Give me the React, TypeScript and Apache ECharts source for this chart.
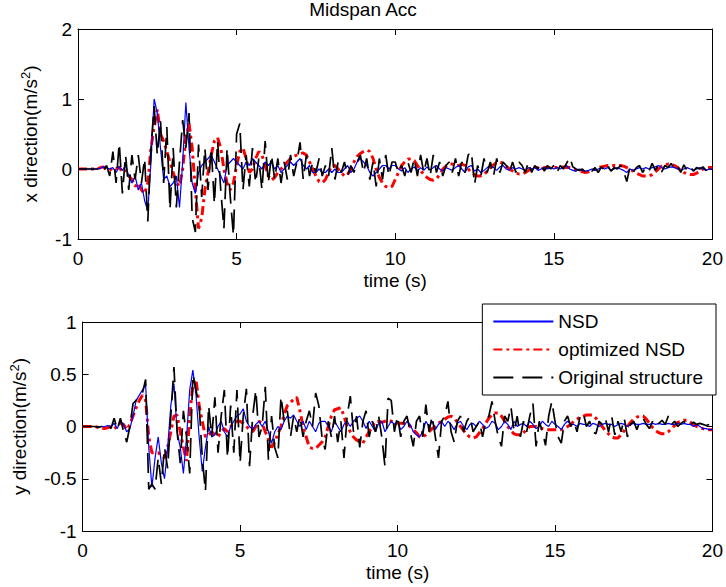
import React, { useEffect, useRef } from "react";
import * as echarts from "echarts";

const TIME_STEP = 0.1;
const X_TICKS = [0, 5, 10, 15, 20];
const LEGEND_NAMES = ["NSD", "optimized NSD", "Original structure"];
const TITLE = "Midspan Acc";

// ---- top plot: x direction ----
const X_NSD = [
  0, 0, 0, 0, 0, 0, 0, 0.01, 0.03, 0.02,
  0, 0.02, -0.05, 0.03, -0.02, 0.05, -0.1, -0.2, -0.1, -0.3,
  -0.2, -0.45, -0.6, 0.1, 1.0, 0.8, 0.3, -0.15, -0.1, -0.25,
  -0.2, -0.1, -0.55, 0.1, 0.95, 0.3, -0.2, -0.35, -0.05, 0.05,
  0.1, 0.15, 0.2, 0.1, 0.0, -0.1, -0.2, 0.05, 0.1, 0.15,
  0.1, 0.05, 0.0, 0.1, 0.05, 0.15, 0.1, 0.05, 0.0, 0.1,
  0.05, 0.1, 0.0, 0.05, -0.05, 0.0, 0.05, 0.1, 0.05, 0.1,
  0.15, 0.05, 0.0, 0.05, -0.05, -0.05, 0.0, -0.05, -0.05, 0.0,
  -0.05, 0.0, -0.05, -0.05, 0.0, 0.05, -0.05, 0.0, 0.1, 0.15,
  0.1, 0.05, -0.05, -0.1, -0.05, 0.0, 0.05, 0.05, 0.0, 0.05,
  0.05, 0.0, -0.03, 0.02, -0.05, 0.0, 0.03, -0.03, 0.02, -0.02,
  0.03, -0.02, 0.02, 0.05, 0.0, -0.03, 0.02, 0.0, -0.02, 0.02,
  0.05, 0.0, -0.05, 0.03, 0.05, -0.03, 0.0, -0.05, -0.02, 0.02,
  0.05, 0.02, -0.02, 0.03, 0.05, 0.0, -0.02, 0.02, 0.0, 0.02,
  0.0, -0.02, 0.02, 0.0, 0.02, -0.02, 0.0, 0.02, 0.0, 0.02,
  0.0, 0.02, 0.0, 0.02, 0.05, 0.0, -0.02, -0.03, 0.0, -0.02,
  -0.03, -0.02, 0.0, -0.02, 0.0, 0.02, 0.0, 0.02, -0.02, 0.0,
  0.02, 0.0, -0.02, -0.05, 0.0, -0.02, 0.0, 0.02, 0.0, 0.02,
  0.0, 0.02, 0.03, 0.05, 0.02, 0.0, 0.02, 0.03, 0.02, 0.0,
  -0.02, 0.0, 0.02, 0.0, -0.02, 0.0, 0.02, 0.0, -0.02, 0.0,
  0.0,
];

const X_OPT = [
  0, 0, 0, 0, 0, 0, 0, 0.02, 0.03, 0.0,
  -0.02, 0.02, 0.0, 0.03, -0.05, -0.02, -0.1, -0.15, -0.25, -0.2,
  -0.3, -0.35, -0.2, 0.3, 0.6, 0.85, 0.5, 0.4, 0.25, 0.1,
  -0.05, -0.2, -0.25, 0.0, 0.45, 0.65, 0.3, -0.3, -0.85, -0.7,
  -0.3, -0.05, 0.2, 0.4, 0.45, 0.3, 0.0, -0.2, -0.3, -0.2,
  0.05, 0.25, 0.3, 0.15, -0.05, 0.0, 0.15, 0.25, 0.2, 0.05,
  -0.1, -0.16, -0.12, -0.05, 0.0, 0.05, 0.1, 0.15, 0.18, 0.2,
  0.22, 0.23, 0.2, 0.1, 0.0, -0.1, -0.18, -0.2, -0.15, -0.05,
  0.05, 0.05, 0.0, -0.05, -0.1, -0.08, 0.0, 0.1, 0.18, 0.22,
  0.25, 0.27, 0.25, 0.15, 0.0, -0.12, -0.2, -0.25, -0.27, -0.25,
  -0.15, -0.05, 0.05, 0.1, 0.14, 0.15, 0.12, 0.05, -0.02, -0.08,
  -0.12, -0.15, -0.16, -0.14, -0.08, 0.0, 0.04, 0.07, 0.07, 0.05,
  0.05, 0.07, 0.05, 0.0, -0.05, -0.08, -0.1, -0.1, -0.08, -0.03,
  0.02, 0.06, 0.09, 0.1, 0.08, 0.04, 0.0, -0.03, -0.06, -0.07,
  -0.07, -0.05, -0.02, 0.01, 0.02, 0.02, 0.0, 0.02, 0.02, 0.02,
  0.02, 0.02, 0.02, 0.03, 0.02, 0.02, 0.0, -0.02, -0.03, -0.04,
  -0.05, -0.04, -0.02, 0.0, 0.02, 0.03, 0.04, 0.05, 0.05, 0.05,
  0.05, 0.05, 0.04, 0.02, 0.0, -0.03, -0.06, -0.08, -0.1, -0.1,
  -0.1, -0.08, -0.04, 0.0, 0.04, 0.06, 0.07, 0.07, 0.05, 0.02,
  -0.02, -0.05, -0.07, -0.08, -0.08, -0.06, -0.03, 0.0, 0.02, 0.02,
  0.02,
];

const X_ORIG = [
  0, 0, 0, 0, 0, 0, 0, 0.02, -0.03, 0.05,
  -0.1, 0.25, -0.2, 0.37, -0.35, 0.2, -0.3, 0.2, -0.15, 0.2,
  -0.2, 0.15, -0.75, 0.3, 0.9, 0.2, 0.7, -0.2, 0.6, -0.58,
  0.3, -0.55, 0.1, 0.7, 0.3, 0.8, -0.7, -0.9, 0.35, -0.4,
  0.3, -0.3, 0.3, -0.5, 0.4, -0.3, -0.85, 0.3, -0.4, -0.95,
  0.5, 0.65, -0.3, 0.2, -0.25, 0.3, -0.2, 0.15, -0.3, 0.4,
  -0.2, 0.2, -0.15, 0.15, -0.2, 0.1, -0.15, 0.2, -0.1, 0.1,
  0.38, -0.15, 0.2, -0.1, 0.1, -0.05, 0.15, -0.1, 0.05, -0.1,
  0.3, -0.15, 0.1, -0.05, 0.1, -0.1, 0.05, -0.05, 0.1, 0.2,
  -0.05, 0.15, -0.15, 0.1, -0.25, 0.15, -0.15, 0.2, -0.1, 0.1,
  0.1, -0.05, 0.05, -0.1, 0.1, -0.05, 0.15, -0.1, 0.2, -0.05,
  0.15, -0.1, 0.2, -0.05, 0.1, -0.1, 0.05, 0.1, -0.05, 0.15,
  -0.1, 0.1, -0.05, 0.2, 0.25, -0.22, 0.05, -0.1, 0.15, -0.05,
  0.1, -0.1, 0.15, -0.05, 0.1, 0.05, -0.05, 0.1, -0.05, 0.1,
  0.05, -0.05, 0.1, -0.05, 0.05, 0.0, 0.08, -0.03, 0.05, 0.0,
  0.05, -0.05, 0.05, 0.0, 0.08, 0.17, 0.03, 0.0, -0.02, 0.0,
  -0.05, 0.0, -0.03, 0.02, -0.05, 0.03, -0.02, 0.05, -0.03, 0.02,
  0.0, 0.05, -0.03, -0.18, 0.03, -0.05, 0.02, 0.05, -0.05, 0.03,
  -0.03, 0.08, -0.02, 0.06, -0.04, 0.05, 0.02, 0.08, 0.0, 0.05,
  -0.05, 0.06, -0.02, 0.04, -0.03, 0.02, 0.0, 0.03, -0.02, 0.02,
  0.0,
];

// ---- bottom plot: y direction ----
const Y_NSD = [
  0, 0, 0, 0, 0, 0, 0, 0, 0.01, 0.0,
  0.03, -0.02, 0.05, 0.02, -0.05, -0.02, 0.1, 0.25, 0.3, 0.35,
  0.4, -0.2, -0.58, -0.3, -0.1, -0.35, -0.5, -0.2, 0.2, 0.41,
  -0.05, -0.2, -0.45, -0.1, 0.35, 0.54, 0.3, -0.1, -0.43, -0.2,
  0.0, -0.1, -0.08, 0.0, 0.05, -0.05, -0.1, 0.0, 0.05, 0.1,
  0.12, 0.17, 0.05, 0.0, -0.03, 0.02, 0.05, 0.0, 0.05, -0.05,
  -0.16, -0.05, 0.0, -0.03, 0.05, 0.1, 0.08, 0.11, 0.05, 0.0,
  0.05, -0.03, 0.05, 0.0, -0.05, 0.03, 0.05, 0.05, 0.0, -0.05,
  0.05, 0.0, -0.05, 0.02, 0.05, 0.0, 0.05, 0.08, 0.1, 0.05,
  -0.02, 0.05, 0.0, -0.05, 0.03, 0.05, -0.05, 0.0, 0.05, 0.02,
  0.05, -0.03, 0.0, 0.05, 0.02, -0.05, -0.08, -0.1, -0.05, 0.05,
  0.0, 0.05, -0.03, 0.02, 0.05, 0.0, 0.05, 0.02, -0.03, 0.03,
  0.05, 0.0, -0.03, 0.02, 0.03, 0.0, 0.05, 0.02, -0.02, 0.0,
  0.05, 0.03, -0.03, 0.0, 0.05, 0.02, -0.03, 0.05, 0.0, 0.02,
  0.03, 0.0, 0.05, 0.02, -0.02, 0.0, 0.05, 0.02, 0.0, 0.05,
  0.02, 0.0, -0.03, 0.02, 0.05, 0.02, 0.02, 0.0, 0.03, 0.02,
  0.02, 0.0, 0.03, 0.02, 0.0, 0.02, 0.03, 0.02, 0.02, 0.0,
  0.02, 0.03, 0.02, 0.0, 0.02, 0.03, 0.02, 0.02, 0.03, 0.02,
  0.02, 0.03, 0.02, 0.03, 0.02, 0.02, 0.03, 0.02, 0.02, 0.03,
  0.02, 0.03, 0.02, 0.02, 0.0, 0.02, 0.0, -0.02, -0.02, -0.03,
  -0.03,
];

const Y_OPT = [
  0, 0, 0, 0, 0, -0.01, -0.02, -0.02, -0.01, 0.0,
  -0.02, 0.0, 0.03, 0.02, -0.03, 0.02, 0.1, 0.18, 0.25, 0.3,
  0.25, -0.1, -0.25, -0.25, -0.25, -0.28, -0.3, -0.2, -0.05, 0.1,
  0.11, -0.05, -0.2, -0.33, 0.1, 0.4, 0.45, 0.2, 0.05, -0.1,
  -0.08, -0.05, -0.08, -0.1, -0.05, -0.02, -0.05, 0.0, 0.03, 0.05,
  0.05, 0.03, 0.0, -0.03, -0.05, 0.0, 0.05, 0.03, -0.05, -0.12,
  -0.2, -0.15, -0.07, 0.0, 0.12, 0.2, 0.23, 0.26, 0.28, 0.15,
  0.0, -0.1, -0.2, -0.21, -0.21, -0.18, -0.15, -0.1, 0.0, 0.1,
  0.16, 0.17, 0.18, 0.1, 0.0, -0.05, -0.1, -0.13, -0.15, -0.16,
  -0.1, -0.05, 0.0, 0.05, 0.05, 0.04, 0.05, 0.06, 0.05, 0.04,
  0.03, 0.03, 0.03, 0.02, 0.0, -0.03, -0.06, -0.1, -0.1, -0.08,
  -0.05, -0.02, 0.0, 0.03, 0.05, 0.07, 0.09, 0.1, 0.08, 0.04,
  0.0, -0.04, -0.08, -0.1, -0.11, -0.1, -0.06, -0.02, 0.03, 0.08,
  0.11, 0.13, 0.13, 0.1, 0.05, 0.0, -0.04, -0.07, -0.08, -0.08,
  -0.06, -0.03, 0.0, 0.0, 0.0, -0.01, -0.02, -0.03, -0.03, -0.03,
  -0.03, -0.03, -0.03, -0.02, 0.0, 0.02, 0.05, 0.07, 0.09, 0.1,
  0.11, 0.11, 0.11, 0.08, 0.04, 0.0, -0.04, -0.07, -0.1, -0.11,
  -0.11, -0.08, -0.04, 0.0, 0.04, 0.07, 0.09, 0.1, 0.1, 0.07,
  0.03, -0.01, -0.04, -0.06, -0.07, -0.07, -0.05, -0.02, 0.01, 0.04,
  0.05, 0.06, 0.06, 0.04, 0.02, 0.0, -0.01, -0.02, -0.03, -0.03,
  -0.03,
];

const Y_ORIG = [
  0, 0, 0, 0, 0, -0.01, 0, 0, 0.02, -0.02,
  0.08, -0.03, 0.08, -0.05, -0.15, 0.0, 0.22, 0.25, 0.3, 0.32,
  0.45, -0.6, -0.55, -0.6, -0.3, -0.55, -0.2, -0.4, 0.1, 0.57,
  -0.05, -0.35, 0.15, -0.1, -0.45, 0.5, 0.35, 0.2, -0.3, -0.62,
  0.2, -0.1, 0.28, -0.25, 0.1, 0.35, -0.3, 0.2, -0.25, 0.35,
  -0.35, 0.1, 0.36, -0.38, 0.1, 0.35, -0.1, 0.0, 0.38, -0.32,
  0.1, -0.2, -0.3, 0.29, 0.05, 0.15, -0.1, 0.1, -0.05, 0.1,
  -0.1, 0.05, 0.15, 0.0, 0.32, 0.2, -0.1, -0.22, 0.05, -0.1,
  0.1, -0.15, 0.05, -0.3, 0.1, 0.29, -0.05, 0.1, -0.2, 0.05,
  0.15, -0.1, 0.05, -0.05, 0.1, -0.1, -0.38, 0.27, 0.25, -0.05,
  0.1, -0.1, 0.05, 0.1, -0.05, -0.19, 0.05, 0.1, -0.1, 0.21,
  -0.05, 0.1, -0.1, -0.3, 0.05, 0.1, 0.24, -0.05, -0.15, 0.05,
  0.1, -0.05, 0.05, 0.1, -0.05, 0.0, 0.05, -0.1, 0.05, 0.1,
  0.24, 0.05, -0.1, -0.19, 0.1, 0.05, 0.19, -0.05, 0.1, -0.1,
  0.05, -0.05, 0.1, 0.22, -0.19, 0.05, -0.05, -0.18, 0.1, 0.24,
  0.05, -0.1, -0.16, 0.05, 0.1, 0.0, 0.05, -0.05, 0.1, 0.13,
  0.0, 0.05, -0.05, -0.07, 0.05, 0.02, 0.08, -0.05, 0.1, -0.08,
  0.05, -0.05, 0.08, -0.1, 0.02, 0.05, -0.03, 0.05, 0.08, 0.02,
  -0.02, 0.05, 0.0, 0.03, 0.06, 0.02, 0.1, 0.02, 0.05, 0.0,
  0.03, 0.05, 0.0, 0.02, 0.04, 0.02, 0.03, 0.02, 0.01, 0.02,
  0.02,
];

const FONT = "'Liberation Sans', Arial, Helvetica, sans-serif";

function pairs(vals: number[]) {
  return vals.map((v, i) => [Math.round(i * TIME_STEP * 10) / 10, v]);
}

export default function App() {
  const ref = useRef<HTMLDivElement>(null);
  useEffect(() => {
    const chart = echarts.init(ref.current!, null, { renderer: "svg" });
    const GRID_L = 78;
    const GRID_R = 11;
    const grids = [
      { left: GRID_L, right: GRID_R, top: 29, height: 210 },
      { left: GRID_L, right: GRID_R, top: 322, height: 209 },
    ];
    const tickStyle = { color: "#000", fontSize: 19, fontFamily: FONT };
    const mkX = (gi: number, top: boolean) => ({
      type: "value",
      gridIndex: gi,
      position: top ? "top" : "bottom",
      min: 0,
      max: 20,
      interval: 5,
      splitLine: { show: false },
      axisLine: { show: true, onZero: false, lineStyle: { color: "#000", width: 1 } },
      axisTick: { show: true, inside: true, length: 6, lineStyle: { color: "#000" } },
      axisLabel: { show: !top, margin: 10, ...tickStyle, formatter: (v: number) => (X_TICKS.includes(v) ? String(v) : "") },
      name: top ? "" : "time (s)",
      nameLocation: "middle",
      nameGap: 32,
      nameTextStyle: { color: "#000", fontSize: 19, fontFamily: FONT },
    });
    const mkY = (gi: number, right: boolean, min: number, max: number, interval: number, name: string) => ({
      type: "value",
      gridIndex: gi,
      position: right ? "right" : "left",
      min,
      max,
      interval,
      splitLine: { show: false },
      axisLine: { show: true, onZero: false, lineStyle: { color: "#000", width: 1 } },
      axisTick: { show: true, inside: true, length: 6, lineStyle: { color: "#000" } },
      axisLabel: { show: !right, margin: 6, ...tickStyle },
      name: right ? "" : name,
      nameLocation: "middle",
      nameRotate: 90,
      nameGap: gi === 0 ? 23 : 43,
      nameTextStyle: {
        color: "#000",
        fontSize: 19,
        fontFamily: FONT,
        lineHeight: 22,
        rich: {
          sup: { fontSize: 13, fontFamily: FONT, color: "#000", verticalAlign: "top", lineHeight: 22, padding: [0, 0, 12, 0] },
        },
      },
    });

    const blue = { color: "#0000ff", width: 1.2, type: "solid" as const };
    const red = { color: "#ff0000", width: 3, type: [9, 4, 3, 4] };
    const black = { color: "#000000", width: 1.7, type: [20, 9] };

    const mkSeries = (name: string, data: number[], style: any, gi: number, z: number) => ({
      name,
      type: "line",
      xAxisIndex: gi * 2,
      yAxisIndex: gi * 2,
      data: pairs(data),
      showSymbol: false,
      symbol: "none",
      lineStyle: style,
      itemStyle: { color: style.color },
      z,
      silent: true,
    });

    chart.setOption({
      animation: false,
      backgroundColor: "#ffffff",
      title: {
        text: TITLE,
        left: "center",
        top: 0,
        padding: 0,
        textStyle: { color: "#000", fontSize: 19, fontWeight: "normal", fontFamily: FONT },
      },
      grid: grids.map((g) => ({ ...g, show: false })),
      xAxis: [mkX(0, false), mkX(0, true), mkX(1, false), mkX(1, true)],
      yAxis: [
        mkY(0, false, -1, 2, 1, "x direction(m/s{sup|2})"),
        mkY(0, true, -1, 2, 1, ""),
        mkY(1, false, -1, 1, 0.5, "y direction(m/s{sup|2})"),
        mkY(1, true, -1, 1, 0.5, ""),
      ],
      legend: {
        data: LEGEND_NAMES,
        orient: "vertical",
        right: 10,
        top: 304,
        itemWidth: 60,
        itemHeight: 14,
        itemGap: 9,
        padding: [8, 13, 8, 10],
        borderColor: "#000",
        borderWidth: 1,
        borderRadius: 0,
        backgroundColor: "#fff",
        selectedMode: false,
        itemStyle: { opacity: 0 },
        textStyle: { color: "#000", fontSize: 19, fontFamily: FONT },
        z: 10,
      },
      series: [
        mkSeries(LEGEND_NAMES[1], X_OPT, red, 0, 2),
        mkSeries(LEGEND_NAMES[0], X_NSD, blue, 0, 3),
        mkSeries(LEGEND_NAMES[2], X_ORIG, black, 0, 4),
        mkSeries(LEGEND_NAMES[1], Y_OPT, red, 1, 2),
        mkSeries(LEGEND_NAMES[0], Y_NSD, blue, 1, 3),
        mkSeries(LEGEND_NAMES[2], Y_ORIG, black, 1, 4),
      ],
    });
    return () => chart.dispose();
  }, []);
  return <div ref={ref} style={{ position: "absolute", left: 0, top: 0, width: 726, height: 587 }} />;
}
